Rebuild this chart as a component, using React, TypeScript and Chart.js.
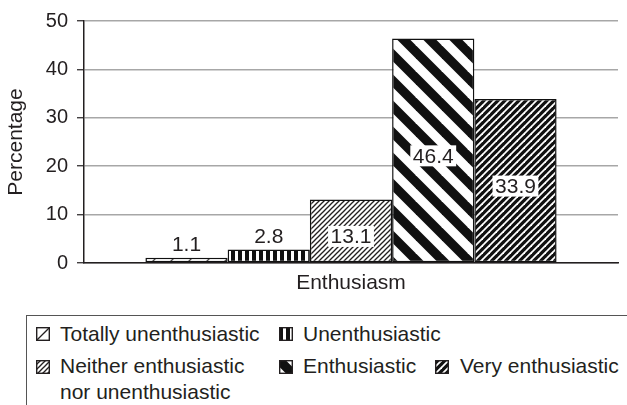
import React, { useEffect, useRef } from 'react';
import { Chart, registerables } from 'chart.js';

Chart.register(...registerables);

// ---- data ----
const categories = ['Enthusiasm'];
const seriesNames = [
  'Totally unenthusiastic',
  'Unenthusiastic',
  'Neither enthusiastic nor unenthusiastic',
  'Enthusiastic',
  'Very enthusiastic',
];
const seriesValues = [1.1, 2.8, 13.1, 46.4, 33.9];
const yTickValues = [0, 10, 20, 30, 40, 50];
const hatchKinds = ['sparse', 'vertical', 'fine', 'wide', 'dense'];

const FONT = '"Liberation Sans", Arial, Helvetica, sans-serif';
const INK = '#231f20';
const W = 627;
const H = 405;
const CHART_H = 300;

// Builds one repeating tile for a hatch fill.
function makeTile(kind: string): HTMLCanvasElement {
  const c = document.createElement('canvas');
  const diag = (p: number, w: number, bg: string, fg: string, dir: '/' | '\\') => {
    c.width = p;
    c.height = p;
    const g = c.getContext('2d')!;
    g.fillStyle = bg;
    g.fillRect(0, 0, p, p);
    g.strokeStyle = fg;
    g.lineWidth = w;
    for (const k of [-1, 0, 1, 2]) {
      const cc = k * p;
      g.beginPath();
      if (dir === '/') {
        g.moveTo(cc + p, -p);
        g.lineTo(cc - 2 * p, 2 * p);
      } else {
        g.moveTo(cc - p, -p);
        g.lineTo(cc + 2 * p, 2 * p);
      }
      g.stroke();
    }
  };
  switch (kind) {
    case 'sparse':
      diag(18, 1.3, '#ffffff', INK, '/');
      break;
    case 'fine':
      diag(5, 1.3, '#ffffff', INK, '/');
      break;
    case 'wide':
      diag(26, 9.2, '#ffffff', '#111111', '\\');
      break;
    case 'dense':
      diag(7, 1.8, '#111111', '#ffffff', '/');
      break;
    case 'vertical':
    default: {
      c.width = 7;
      c.height = 7;
      const g = c.getContext('2d')!;
      g.fillStyle = '#ffffff';
      g.fillRect(0, 0, 7, 7);
      g.fillStyle = '#111111';
      g.fillRect(0, 0, 4, 7);
    }
  }
  return c;
}

function makePattern(ctx: CanvasRenderingContext2D, kind: string): CanvasPattern {
  return ctx.createPattern(makeTile(kind), 'repeat')!;
}

// Value labels: inside the bar on a white box for tall bars, above the bar otherwise.
const valueLabels = {
  id: 'valueLabels',
  afterDatasetsDraw(chart: any) {
    const { ctx } = chart;
    ctx.save();
    ctx.font = `21px ${FONT}`;
    ctx.textAlign = 'center';
    chart.data.datasets.forEach((ds: any, i: number) => {
      const meta = chart.getDatasetMeta(i);
      const bar = meta.data[0];
      if (!bar) return;
      const v = ds.data[0] as number;
      const txt = v.toFixed(1);
      if (v >= 10) {
        const cy = (bar.y + bar.base) / 2 + 5.5;
        const tw = ctx.measureText(txt).width;
        ctx.fillStyle = '#ffffff';
        ctx.fillRect(bar.x - tw / 2 - 2.5, cy - 10.5, tw + 5, 21);
        ctx.fillStyle = INK;
        ctx.textBaseline = 'middle';
        ctx.fillText(txt, bar.x, cy + 1);
      } else {
        ctx.fillStyle = INK;
        ctx.textBaseline = 'alphabetic';
        ctx.fillText(txt, bar.x, bar.y - 6.5);
      }
    });
    ctx.restore();
  },
};

function Swatch({ kind, left, top, size = 14 }: { kind: string; left: number; top: number; size?: number }) {
  const ref = useRef<HTMLCanvasElement>(null);
  useEffect(() => {
    const cv = ref.current;
    if (!cv) return;
    const g = cv.getContext('2d')!;
    g.clearRect(0, 0, size, size);
    const pat = makePattern(g, kind);
    if (kind === 'sparse' && (pat as any).setTransform) {
      pat.setTransform(new DOMMatrix().translate(-4, 0));
    }
    g.fillStyle = pat;
    g.fillRect(0, 0, size, size);
    g.strokeStyle = INK;
    g.lineWidth = 1.4;
    g.strokeRect(0.7, 0.7, size - 1.4, size - 1.4);
  }, [kind, size]);
  return (
    <canvas
      ref={ref}
      width={size}
      height={size}
      style={{ position: 'absolute', left, top, width: size, height: size }}
    />
  );
}

const legendText: React.CSSProperties = {
  position: 'absolute',
  font: `21px ${FONT}`,
  lineHeight: '26px',
  color: INK,
  whiteSpace: 'nowrap',
};

export default function App() {
  const canvasRef = useRef<HTMLCanvasElement>(null);

  useEffect(() => {
    const canvas = canvasRef.current;
    if (!canvas) return;
    const ctx = canvas.getContext('2d')!;
    Chart.defaults.font.family = FONT;

    const chart = new Chart(ctx, {
      type: 'bar',
      data: {
        labels: categories,
        datasets: seriesNames.map((name, i) => ({
          label: name,
          data: [seriesValues[i]],
          backgroundColor: makePattern(ctx, hatchKinds[i]),
          borderColor: '#111111',
          borderWidth: 1.5,
          borderSkipped: false,
          categoryPercentage: 0.77,
          barPercentage: 1.0,
        })),
      },
      options: {
        responsive: false,
        animation: false,
        events: [],
        layout: { padding: { top: 19, right: 9, left: 0, bottom: 0 } },
        plugins: {
          legend: { display: false },
          tooltip: { enabled: false },
        },
        scales: {
          x: {
            grid: { display: false, drawTicks: false },
            border: { display: true, color: INK, width: 1.5 },
            ticks: { color: INK, font: { size: 21 }, padding: 8 },
            afterFit: (s: any) => {
              s.height = CHART_H - 263;
            },
          },
          y: {
            min: 0,
            max: 50,
            afterBuildTicks: (s: any) => {
              s.ticks = yTickValues.map((v) => ({ value: v }));
            },
            grid: {
              color: '#a7a7a7',
              lineWidth: 1.5,
              drawTicks: true,
              tickLength: 7,
              tickColor: INK,
              tickWidth: 1.2,
            },
            border: { display: true, color: INK, width: 1.5 },
            ticks: { color: INK, font: { size: 20 }, padding: 9 },
            title: {
              display: true,
              text: 'Percentage',
              color: INK,
              font: { size: 21 },
              padding: { top: 4, bottom: 0 },
            },
            afterFit: (s: any) => {
              s.width = 84;
            },
          },
        },
      },
      plugins: [valueLabels],
    });
    return () => chart.destroy();
  }, []);

  return (
    <div
      style={{
        position: 'absolute',
        left: 0,
        top: 0,
        width: W,
        height: H,
        overflow: 'hidden',
        background: '#ffffff',
      }}
    >
      <canvas
        ref={canvasRef}
        width={W}
        height={CHART_H}
        style={{ position: 'absolute', left: 0, top: 0, width: W, height: CHART_H }}
      />
      <div
        style={{
          position: 'absolute',
          left: 26,
          top: 315,
          width: W,
          height: 200,
          borderTop: '1.5px solid #555',
          borderLeft: '1.5px solid #555',
        }}
      />
      <Swatch kind={hatchKinds[0]} left={36} top={327} />
      <div style={{ ...legendText, left: 60, top: 321 }}>{seriesNames[0]}</div>
      <Swatch kind={hatchKinds[1]} left={279} top={327} />
      <div style={{ ...legendText, left: 303, top: 321 }}>{seriesNames[1]}</div>
      <Swatch kind={hatchKinds[2]} left={36} top={360} />
      <div style={{ ...legendText, left: 60, top: 353 }}>
        Neither enthusiastic
        <br />
        nor unenthusiastic
      </div>
      <Swatch kind={hatchKinds[3]} left={279} top={360} />
      <div style={{ ...legendText, left: 303, top: 353 }}>{seriesNames[3]}</div>
      <Swatch kind={hatchKinds[4]} left={435} top={360} />
      <div style={{ ...legendText, left: 460, top: 353 }}>{seriesNames[4]}</div>
    </div>
  );
}
